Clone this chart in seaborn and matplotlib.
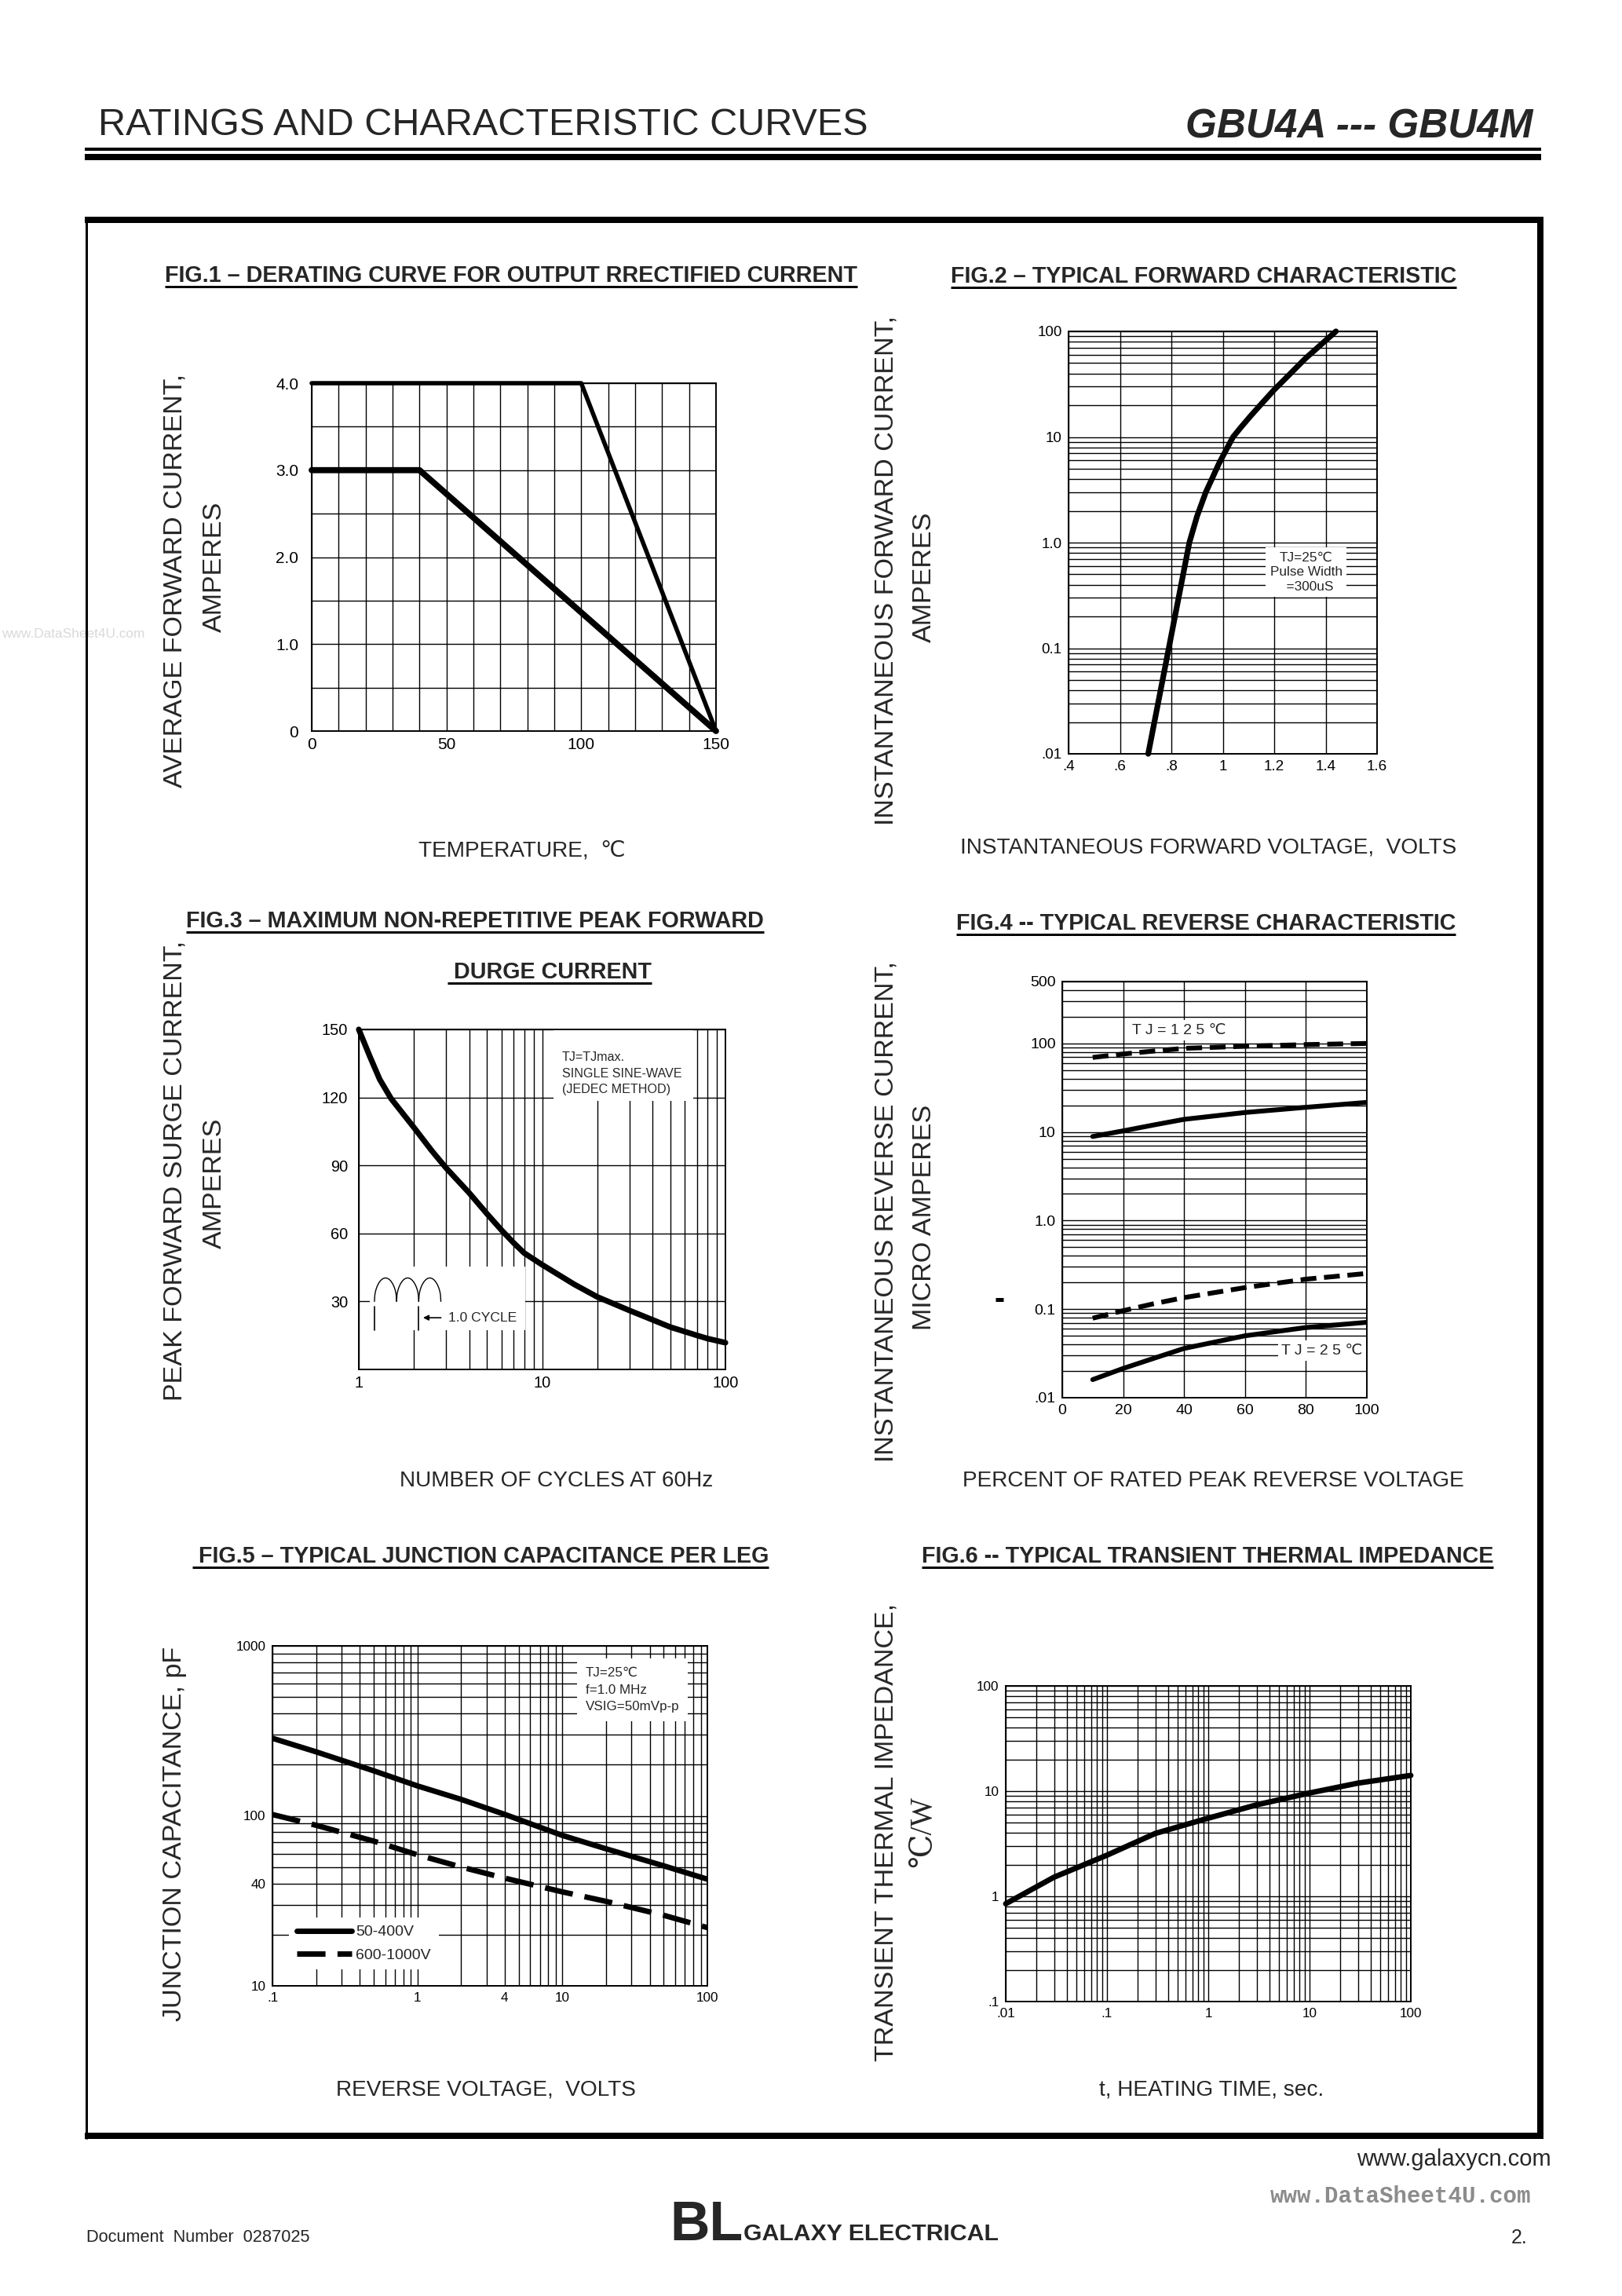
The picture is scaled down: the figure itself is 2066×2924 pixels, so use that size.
import numpy as np
import pandas as pd
import matplotlib
matplotlib.use("Agg")
import matplotlib.pyplot as plt
import seaborn as sns
from matplotlib.lines import Line2D
from matplotlib.patches import Rectangle
from matplotlib import font_manager as fm
from matplotlib.ticker import MultipleLocator, LogLocator, NullFormatter, NullLocator

# ---------------- data ----------------
# Fig.1 derating curve
fig1_temp_4a = [0, 100, 150]
fig1_curr_4a = [4.0, 4.0, 0.0]
fig1_temp_3a = [0, 40, 150]
fig1_curr_3a = [3.0, 3.0, 0.0]
fig1_xticks = [0, 50, 100, 150]
fig1_xticklabels = ['0', '50', '100', '150']
fig1_yticks = [0, 1, 2, 3, 4]
fig1_yticklabels = ['0', '1.0', '2.0', '3.0', '4.0']

# Fig.2 forward characteristic
fig2_volt = [0.71, 0.79, 0.87, 0.90, 0.934, 0.96, 0.985, 1.01, 1.04, 1.07, 1.11,
             1.155, 1.20, 1.26, 1.32, 1.38, 1.44]
fig2_curr = [0.01, 0.1, 1.0, 1.78, 3.0, 4.12, 5.6, 7.3, 10, 12.3, 16,
             21.2, 28, 39.2, 55, 74.2, 100]
fig2_xticks = [0.4, 0.6, 0.8, 1.0, 1.2, 1.4, 1.6]
fig2_xticklabels = ['.4', '.6', '.8', '1', '1.2', '1.4', '1.6']
fig2_yticks = [0.01, 0.1, 1, 10, 100]
fig2_yticklabels = ['.01', '0.1', '1.0', '10', '100']

# Fig.3 surge current
fig3_cycles = [1, 1.15, 1.3, 1.5, 2, 2.5, 3, 4, 5, 6, 7, 8, 10, 15, 20, 30, 40, 50, 60, 70, 80, 100]
fig3_amps = [150, 138, 128, 119.5, 106.7, 96.5, 88.8, 77.9, 68.7, 61.5, 55.8, 51.3, 46.2, 37.5,
             32, 26, 21.9, 18.7, 16.7, 15, 13.6, 11.8]
fig3_xticks = [1, 10, 100]
fig3_xticklabels = ['1', '10', '100']
fig3_yticks = [30, 60, 90, 120, 150]
fig3_yticklabels = ['30', '60', '90', '120', '150']

# Fig.4 reverse characteristic
fig4_pct = [10, 20, 30, 40, 60, 80, 100]
fig4_125_upper = [69.5, 76, 82, 88, 93, 97, 100]
fig4_125_lower = [8.9, 10.3, 12.0, 13.9, 16.6, 19.0, 21.6]
fig4_25_upper = [0.079, 0.096, 0.115, 0.135, 0.175, 0.218, 0.253]
fig4_25_lower = [0.016, 0.0214, 0.0278, 0.036, 0.050, 0.062, 0.071]
fig4_xticks = [0, 20, 40, 60, 80, 100]
fig4_xticklabels = ['0', '20', '40', '60', '80', '100']
fig4_yticks = [0.01, 0.1, 1, 10, 100, 500]
fig4_yticklabels = ['.01', '0.1', '1.0', '10', '100', '500']

# Fig.5 junction capacitance
fig5_volt = [0.1, 0.2, 0.5, 1, 2, 4, 10, 20, 50, 100]
fig5_cap_50_400 = [286, 238, 184, 150, 125, 102, 76.7, 64, 50.8, 42.4]
fig5_cap_600_1000 = [101.8, 88, 71, 59, 50, 43, 35.7, 31.4, 26, 22.0]
fig5_series = ['50-400V', '600-1000V']
fig5_xticks = [0.1, 1, 4, 10, 100]
fig5_xticklabels = ['.1', '1', '4', '10', '100']
fig5_yticks = [10, 40, 100, 1000]
fig5_yticklabels = ['10', '40', '100', '1000']

# Fig.6 transient thermal impedance
fig6_time = [0.01, 0.03, 0.1, 0.3, 1, 3, 10, 30, 100]
fig6_z = [0.85, 1.52, 2.46, 3.96, 5.53, 7.4, 9.6, 11.9, 14.1]
fig6_xticks = [0.01, 0.1, 1, 10, 100]
fig6_xticklabels = ['.01', '.1', '1', '10', '100']
fig6_yticks = [0.1, 1, 10, 100]
fig6_yticklabels = ['.1', '1', '10', '100']

# ---------------- style ----------------
sns.set_style('white')
names = {f.name for f in fm.fontManager.ttflist}
HAS_NARROW = 'Liberation Sans Narrow' in names
NARROW = ['Liberation Sans Narrow' if HAS_NARROW else 'Liberation Sans', 'DejaVu Sans']
REG = ['Liberation Sans', 'DejaVu Sans']
NS = 1.0 if HAS_NARROW else 0.84   # shrink narrow text if the narrow face is missing
plt.rcParams['font.family'] = REG

W, H, DPI = 2066, 2924, 200
fig = plt.figure(figsize=(W / DPI, H / DPI), dpi=DPI)
fig.patch.set_facecolor('white')


def pt(px):
    return px * 72.0 / DPI


def fx(x):
    return x / W


def fy(y):
    return 1 - y / H


def add_ax(l, r, t, b):
    return fig.add_axes([fx(l), fy(b), (r - l) / W, (b - t) / H])


def T(x, y, s, size, fam=REG, **kw):
    return fig.text(fx(x), fy(y), s, fontsize=size, family=fam, **kw)


def L(x0, x1, y0, y1, w, color='black'):
    fig.add_artist(Line2D([fx(x0), fx(x1)], [fy(y0), fy(y1)], lw=pt(w), color=color,
                          transform=fig.transFigure, solid_capstyle='butt'))


def style(ax, xt, xtl, yt, ytl, size, fam=REG, ytick_len=0):
    ax.set_xticks(xt)
    ax.set_xticklabels(xtl)
    ax.set_yticks(yt)
    ax.set_yticklabels(ytl)
    ax.xaxis.set_minor_formatter(NullFormatter())
    ax.yaxis.set_minor_formatter(NullFormatter())
    ax.grid(True, which='both', color='black', lw=0.5)
    ax.set_axisbelow(True)
    for s in ax.spines.values():
        s.set_color('black')
        s.set_linewidth(0.7)
        s.set_visible(True)
    ax.tick_params(which='both', length=0, labelsize=size, pad=3, colors='black')
    ax.tick_params(axis='y', which='major', length=ytick_len, width=0.6, direction='out')
    for lab in ax.get_xticklabels() + ax.get_yticklabels():
        lab.set_family(fam)
    ax.set_xlabel('')
    ax.set_ylabel('')
    ax.set_facecolor('white')


# ---------------- page frame ----------------
T(125, 172, 'RATINGS AND CHARACTERISTIC CURVES', 20.8 * NS, NARROW, va='baseline', ha='left')
T(1952, 175, 'GBU4A --- GBU4M', 22 * NS, NARROW, va='baseline', ha='right',
  fontweight='bold', fontstyle='italic')
L(108, 1963, 190, 190, 4)
L(108, 1963, 200, 200, 8)
# outer box
L(108, 1966, 280, 280, 8)
L(108, 1966, 2720, 2720, 8)
L(110, 110, 276, 2724, 3)
L(1962, 1962, 276, 2724, 8)

# faint watermark at left
T(2, 808, 'www.DataSheet4U.com', 6.2, REG, va='center', ha='left', color='#d9d9d9', zorder=0)

# ---------------- titles ----------------
titles = [
    (651, 359, 'FIG.1 – DERATING CURVE FOR OUTPUT RRECTIFIED CURRENT'),
    (1533, 360, 'FIG.2 – TYPICAL FORWARD CHARACTERISTIC'),
    (605, 1181, 'FIG.3 – MAXIMUM NON-REPETITIVE PEAK FORWARD'),
    (700, 1246, ' DURGE CURRENT'),
    (1536, 1184, 'FIG.4 -- TYPICAL REVERSE CHARACTERISTIC'),
    (612, 1990, ' FIG.5 – TYPICAL JUNCTION CAPACITANCE PER LEG'),
    (1538, 1990, 'FIG.6 -- TYPICAL TRANSIENT THERMAL IMPEDANCE'),
]
title_objs = []
for x, y, s in titles:
    t = T(x, y, s, 12.3 * NS, NARROW, va='baseline', ha='center', fontweight='bold')
    title_objs.append((t, y))

# ---------------- axis labels ----------------
YL = 12.3
T(223, 739, 'AVERAGE FORWARD CURRENT,', YL, REG, rotation=90, ha='center', va='center')
T(273, 722, 'AMPERES', YL, REG, rotation=90, ha='center', va='center')
T(1129, 726, 'INSTANTANEOUS FORWARD CURRENT,', YL, REG, rotation=90, ha='center', va='center')
T(1177, 735, 'AMPERES', YL, REG, rotation=90, ha='center', va='center')
T(223, 1491, 'PEAK FORWARD SURGE CURRENT,', YL, REG, rotation=90, ha='center', va='center')
T(273, 1507, 'AMPERES', YL, REG, rotation=90, ha='center', va='center')
T(1129, 1543, 'INSTANTANEOUS REVERSE CURRENT,', YL, REG, rotation=90, ha='center', va='center')
T(1177, 1550, 'MICRO AMPERES', YL, REG, rotation=90, ha='center', va='center')
T(223, 2335, 'JUNCTION CAPACITANCE, pF', YL, REG, rotation=90, ha='center', va='center')
T(1129, 2333, 'TRANSIENT THERMAL IMPEDANCE,', YL, REG, rotation=90, ha='center', va='center')
T(1176, 2333, '℃/W', 14, ['Liberation Serif', 'DejaVu Serif'], rotation=90, ha='center', va='center')

XL = 12.0 * NS
T(665, 1090, 'TEMPERATURE,  ℃', XL, NARROW, ha='center', va='baseline')
T(1539, 1086, 'INSTANTANEOUS FORWARD VOLTAGE,  VOLTS', XL, NARROW, ha='center', va='baseline')
T(709, 1893, 'NUMBER OF CYCLES AT 60Hz', XL, NARROW, ha='center', va='baseline')
T(1545, 1893, 'PERCENT OF RATED PEAK REVERSE VOLTAGE', XL, NARROW, ha='center', va='baseline')
T(619, 2669, 'REVERSE VOLTAGE,  VOLTS', XL, NARROW, ha='center', va='baseline')
T(1543, 2669, 't, HEATING TIME, sec.', XL, NARROW, ha='center', va='baseline')

# ---------------- Fig.1 ----------------
ax1 = add_ax(397, 912, 488, 931)
sns.lineplot(x=fig1_temp_4a, y=fig1_curr_4a, ax=ax1, color='black', lw=2.0, clip_on=False)
sns.lineplot(x=fig1_temp_3a, y=fig1_curr_3a, ax=ax1, color='black', lw=2.8, clip_on=False)
ax1.set_xlim(0, 150)
ax1.set_ylim(0, 4)
ax1.xaxis.set_minor_locator(MultipleLocator(10))
ax1.yaxis.set_minor_locator(MultipleLocator(0.5))
style(ax1, fig1_xticks, fig1_xticklabels, fig1_yticks, fig1_yticklabels, 7.5, REG, ytick_len=3)

# ---------------- Fig.2 ----------------
ax2 = add_ax(1361, 1754, 422, 960)
ax2.set_yscale('log')
sns.lineplot(x=fig2_volt, y=fig2_curr, ax=ax2, color='black', lw=2.6, clip_on=False)
ax2.set_xlim(0.4, 1.6)
ax2.set_ylim(0.01, 100)
ax2.yaxis.set_minor_locator(LogLocator(base=10, subs=np.arange(2, 10), numticks=20))
ax2.xaxis.set_minor_locator(NullLocator())
style(ax2, fig2_xticks, fig2_xticklabels, fig2_yticks, fig2_yticklabels, 6.8, REG)
ax2.text(0.77, 0.43, 'TJ=25℃\nPulse Width\n  =300uS', transform=ax2.transAxes, fontsize=6.2,
         family=NARROW, ha='center', va='center', linespacing=1.3,
         bbox=dict(facecolor='white', edgecolor='none', pad=2))

# ---------------- Fig.3 ----------------
ax3 = add_ax(457, 924, 1311, 1744)
ax3.set_xscale('log')
sns.lineplot(x=fig3_cycles, y=fig3_amps, ax=ax3, color='black', lw=2.6, clip_on=False)
ax3.set_xlim(1, 100)
ax3.set_ylim(0, 150)
ax3.xaxis.set_minor_locator(LogLocator(base=10, subs=np.arange(2, 10), numticks=20))
ax3.yaxis.set_minor_locator(NullLocator())
style(ax3, fig3_xticks, fig3_xticklabels, fig3_yticks, fig3_yticklabels, 7.2, REG, ytick_len=2)
# white areas behind annotations
ax3.add_patch(Rectangle((0.532, 0.79), 0.381, 0.209, transform=ax3.transAxes,
                        facecolor='white', edgecolor='none', zorder=1))
ax3.add_patch(Rectangle((0.03, 0.115), 0.424, 0.187, transform=ax3.transAxes,
                        facecolor='white', edgecolor='none', zorder=1))
ax3.text(0.554, 0.935, 'TJ=TJmax.\nSINGLE SINE-WAVE\n(JEDEC METHOD)', transform=ax3.transAxes,
         fontsize=5.8, family=REG, ha='left', va='top', linespacing=1.45, zorder=3)
# sine-wave icon
tt = np.linspace(0, 1, 60)
for i in range(3):
    x0 = 0.0427 + i * 0.0604
    ax3.plot(x0 + 0.0604 * tt, 0.200 + 0.069 * np.sin(np.pi * tt) ** 0.45,
             transform=ax3.transAxes, color='black', lw=0.5, zorder=3)
for xx in (0.0427, 0.1634):
    ax3.plot([xx, xx], [0.115, 0.185], transform=ax3.transAxes, color='black', lw=0.6, zorder=3)
ax3.annotate('', xy=(0.1634, 0.152), xytext=(0.236, 0.152), xycoords='axes fraction',
             arrowprops=dict(arrowstyle='-|>', color='black', lw=0.6, mutation_scale=5), zorder=3)
ax3.text(0.245, 0.152, '1.0 CYCLE', transform=ax3.transAxes, fontsize=6.3, family=REG,
         ha='left', va='center', zorder=3)

# ---------------- Fig.4 ----------------
ax4 = add_ax(1353, 1741, 1250, 1780)
ax4.set_yscale('log')
dash4 = (0, (3.3, 1.6))
sns.lineplot(x=fig4_pct, y=fig4_125_upper, ax=ax4, color='black', lw=2.2, linestyle=dash4)
sns.lineplot(x=fig4_pct, y=fig4_125_lower, ax=ax4, color='black', lw=2.2)
sns.lineplot(x=fig4_pct, y=fig4_25_upper, ax=ax4, color='black', lw=2.2, linestyle=dash4)
sns.lineplot(x=fig4_pct, y=fig4_25_lower, ax=ax4, color='black', lw=2.2)
ax4.set_xlim(0, 100)
ax4.set_ylim(0.01, 500)
ax4.yaxis.set_minor_locator(LogLocator(base=10, subs=np.arange(2, 10), numticks=20))
ax4.xaxis.set_minor_locator(NullLocator())
style(ax4, fig4_xticks, fig4_xticklabels, fig4_yticks, fig4_yticklabels, 7.0, REG)
ax4.text(23, 141, 'T J = 1 2 5 ℃', fontsize=7, family=REG, ha='left', va='center',
         bbox=dict(facecolor='white', edgecolor='none', pad=1.5))
ax4.text(72, 0.034, 'T J = 2 5 ℃', fontsize=7, family=REG, ha='left', va='center',
         bbox=dict(facecolor='white', edgecolor='none', pad=1.5))
L(1268, 1278, 1655, 1655, 5)

# ---------------- Fig.5 ----------------
ax5 = add_ax(347, 901, 2096, 2529)
ax5.set_xscale('log')
ax5.set_yscale('log')
dash5 = (0, (5.2, 2.2))
sns.lineplot(x=fig5_volt, y=fig5_cap_50_400, ax=ax5, color='black', lw=2.5)
sns.lineplot(x=fig5_volt, y=fig5_cap_600_1000, ax=ax5, color='black', lw=2.5, linestyle=dash5)
ax5.set_xlim(0.1, 100)
ax5.set_ylim(10, 1000)
for a in (ax5.xaxis, ax5.yaxis):
    a.set_minor_locator(LogLocator(base=10, subs=np.arange(2, 10), numticks=20))
style(ax5, fig5_xticks, fig5_xticklabels, fig5_yticks, fig5_yticklabels, 7.0 * NS + 0.3, NARROW)
ax5.text(0.72, 0.87, 'TJ=25℃\nf=1.0 MHz\nVSIG=50mVp-p', transform=ax5.transAxes,
         fontsize=7.3 * NS, family=NARROW, ha='left', va='center', linespacing=1.55,
         bbox=dict(facecolor='white', edgecolor='none', pad=4))
handles = [Line2D([], [], color='black', lw=2.5),
           Line2D([], [], color='black', lw=2.5, linestyle=dash5)]
leg = ax5.legend(handles, fig5_series, loc='lower left', bbox_to_anchor=(0.02, 0.025),
                 frameon=True, fancybox=False, framealpha=1, edgecolor='none',
                 facecolor='white', handlelength=3.6, handletextpad=0.3,
                 labelspacing=0.6, borderpad=0.5, prop={'family': NARROW, 'size': 7.0})

# ---------------- Fig.6 ----------------
ax6 = add_ax(1281, 1797, 2147, 2549)
ax6.set_xscale('log')
ax6.set_yscale('log')
sns.lineplot(x=fig6_time, y=fig6_z, ax=ax6, color='black', lw=2.5, clip_on=False)
ax6.set_xlim(0.01, 100)
ax6.set_ylim(0.1, 100)
for a in (ax6.xaxis, ax6.yaxis):
    a.set_minor_locator(LogLocator(base=10, subs=np.arange(2, 10), numticks=20))
style(ax6, fig6_xticks, fig6_xticklabels, fig6_yticks, fig6_yticklabels, 7.0 * NS + 0.3, NARROW)

# ---------------- footer ----------------
T(1976, 2750, 'www.galaxycn.com', 10.5, REG, ha='right', va='center')
T(1950, 2797, 'www.DataSheet4U.com', 10.5, ['Liberation Mono', 'DejaVu Sans Mono'],
  ha='right', va='center', color='#8c8c8c', fontweight='bold')
T(110, 2855, 'Document  Number  0287025', 8.6 * NS + 0.6, NARROW, ha='left', va='baseline')
T(853, 2853, 'BL', 30 * NS, NARROW, ha='left', va='baseline', fontweight='bold')
T(947, 2853, 'GALAXY ELECTRICAL', 13 * NS, NARROW, ha='left', va='baseline', fontweight='bold')
T(1946, 2857, '2.', 9, REG, ha='right', va='baseline')

# ---------------- underline titles ----------------
fig.canvas.draw()
renderer = fig.canvas.get_renderer()
for t, y in title_objs:
    bb = t.get_window_extent(renderer=renderer)
    L(bb.x0, bb.x1, y + 6, y + 6, 3)

fig.savefig('out.png', dpi=DPI, facecolor='white')
